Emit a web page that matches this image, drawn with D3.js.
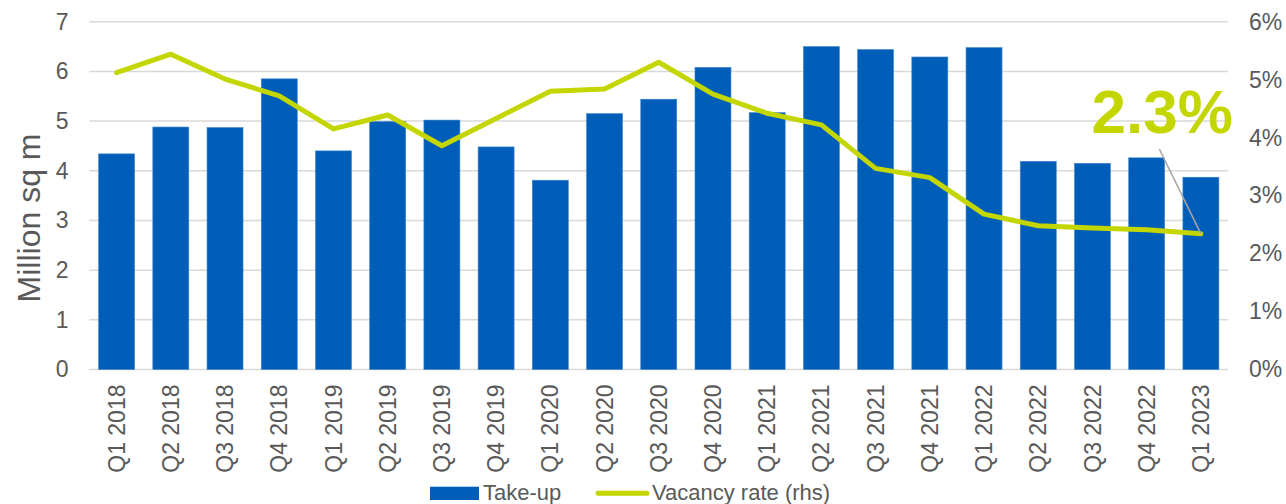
<!DOCTYPE html>
<html>
<head>
<meta charset="utf-8">
<script src="https://d3js.org/d3.v7.min.js"></script>
<style>
	body { margin: 0; background: #fff; }
	svg text { font-family: Arial, "Liberation Sans", sans-serif; fill: #595959; }
</style>
</head>
<body>
<div id="chart"></div>
<script>
// data
var quarters = ["Q1 2018","Q2 2018","Q3 2018","Q4 2018",
	"Q1 2019","Q2 2019","Q3 2019","Q4 2019",
	"Q1 2020","Q2 2020","Q3 2020","Q4 2020",
	"Q1 2021","Q2 2021","Q3 2021","Q4 2021",
	"Q1 2022","Q2 2022","Q3 2022","Q4 2022",
	"Q1 2023"];
var takeUp = [4.34, 4.88, 4.87, 5.85, 4.40, 4.99, 5.02, 4.48, 3.81, 5.15, 5.44,
	6.08, 5.17, 6.50, 6.44, 6.29, 6.48, 4.19, 4.15, 4.26, 3.87];
var vacancy = [5.12, 5.44, 5.01, 4.72, 4.15, 4.39, 3.86, 4.33, 4.80, 4.84, 5.30,
	4.75, 4.42, 4.22, 3.47, 3.31, 2.68, 2.48, 2.44, 2.41, 2.34];
var leftTicks = [0, 1, 2, 3, 4, 5, 6, 7];
var rightTicks = [0, 1, 2, 3, 4, 5, 6];
var seriesNames = ["Take-up", "Vacancy rate (rhs)"];
var calloutText = "2.3%";

// magic numbers
var W = 1286, H = 504;
var margin = {top: 21.7, left: 89.5, right: W - 1228, bottom: H - 369.5},
	width = W - margin.left - margin.right,
	height = H - margin.top - margin.bottom;

var blue = "#005EB8", green = "#C4D600", grid = "#d9d9d9";

var svg = d3.select("#chart").append("svg")
		.attr("width", W)
		.attr("height", H);

var g = svg.append("g")
		.attr("transform", "translate(" + margin.left + "," + margin.top + ")");

var x = d3.scaleBand()
		.domain(quarters)
		.range([0, width])
		.paddingInner(0.336)
		.paddingOuter(0.168);

var yL = d3.scaleLinear().domain([0, 7]).range([height, 0]);
var yR = d3.scaleLinear().domain([0, 6]).range([height, 0]);

// gridlines
g.selectAll(".grid")
		.data(leftTicks)
	.enter().append("line")
		.attr("class", "grid")
		.attr("x1", 0)
		.attr("x2", width)
		.attr("y1", function(d){ return yL(d); })
		.attr("y2", function(d){ return yL(d); })
		.attr("stroke", grid)
		.attr("stroke-width", 1.5);

// bars
g.selectAll(".bar")
		.data(takeUp)
	.enter().append("rect")
		.attr("class", "bar")
		.attr("x", function(d, i){ return x(quarters[i]); })
		.attr("width", x.bandwidth())
		.attr("y", function(d){ return yL(d); })
		.attr("height", function(d){ return height - yL(d); })
		.attr("fill", blue)
		.attr("stroke", "#3f86cc")
		.attr("stroke-width", 0.6);

// vacancy line
var line = d3.line()
		.x(function(d, i){ return x(quarters[i]) + x.bandwidth() / 2; })
		.y(function(d){ return yR(d); });

g.append("path")
		.datum(vacancy)
		.attr("d", line)
		.attr("fill", "none")
		.attr("stroke", green)
		.attr("stroke-width", 5)
		.attr("stroke-linejoin", "round")
		.attr("stroke-linecap", "round");

// left axis
var leftAxis = d3.axisLeft(yL).tickValues(leftTicks).tickSize(0).tickPadding(21)
		.tickFormat(d3.format("d"));
g.append("g")
		.attr("class", "axis")
		.call(leftAxis)
		.call(function(s){ s.select(".domain").remove(); })
		.selectAll("text")
		.style("font-size", "23px")
		.attr("fill", "#595959");

// right axis
var rightAxis = d3.axisRight(yR).tickValues(rightTicks).tickSize(0).tickPadding(21)
		.tickFormat(function(d){ return d + "%"; });
g.append("g")
		.attr("transform", "translate(" + width + ",0)")
		.call(rightAxis)
		.call(function(s){ s.select(".domain").remove(); })
		.selectAll("text")
		.style("font-size", "23px")
		.attr("fill", "#595959");

// bottom axis, rotated labels
var bottomAxis = d3.axisBottom(x).tickSize(0).tickPadding(0);
var xg = g.append("g")
		.attr("transform", "translate(0," + height + ")")
		.call(bottomAxis);
xg.select(".domain").remove();
xg.selectAll("text")
		.style("font-size", "23px")
		.attr("fill", "#595959")
		.attr("text-anchor", "end")
		.attr("transform", "rotate(-90)")
		.attr("x", -15)
		.attr("y", 0)
		.attr("dy", "0.35em");

// axis title
svg.append("text")
		.attr("transform", "translate(39.5," + (margin.top + yL(3.05)) + ") rotate(-90)")
		.attr("text-anchor", "middle")
		.style("font-size", "32px")
		.text("Million sq m");

// callout
var last = vacancy.length - 1;
var px = margin.left + x(quarters[last]) + x.bandwidth() / 2,
	py = margin.top + yR(vacancy[last]);

svg.append("line")
		.attr("x1", px - 41.5)
		.attr("y1", py - 84.7)
		.attr("x2", px)
		.attr("y2", py)
		.attr("stroke", "#a6a6a6")
		.attr("stroke-width", 1.5);

svg.append("text")
		.attr("x", px + 32)
		.attr("y", py - 101.3)
		.attr("text-anchor", "end")
		.style("font-size", "62px")
		.style("font-weight", "bold")
		.style("fill", green)
		.text(calloutText);

// legend
var legend = svg.append("g");
legend.append("rect")
		.attr("x", 430)
		.attr("y", 486.7)
		.attr("width", 49)
		.attr("height", 13.3)
		.attr("fill", blue);
legend.append("text")
		.attr("x", 483)
		.attr("y", 500)
		.style("font-size", "22px")
		.text(seriesNames[0]);
legend.append("line")
		.attr("x1", 598)
		.attr("x2", 647)
		.attr("y1", 493.3)
		.attr("y2", 493.3)
		.attr("stroke", green)
		.attr("stroke-width", 5)
		.attr("stroke-linecap", "round");
legend.append("text")
		.attr("x", 652)
		.attr("y", 500)
		.style("font-size", "22px")
		.text(seriesNames[1]);
</script>
</body>
</html>
